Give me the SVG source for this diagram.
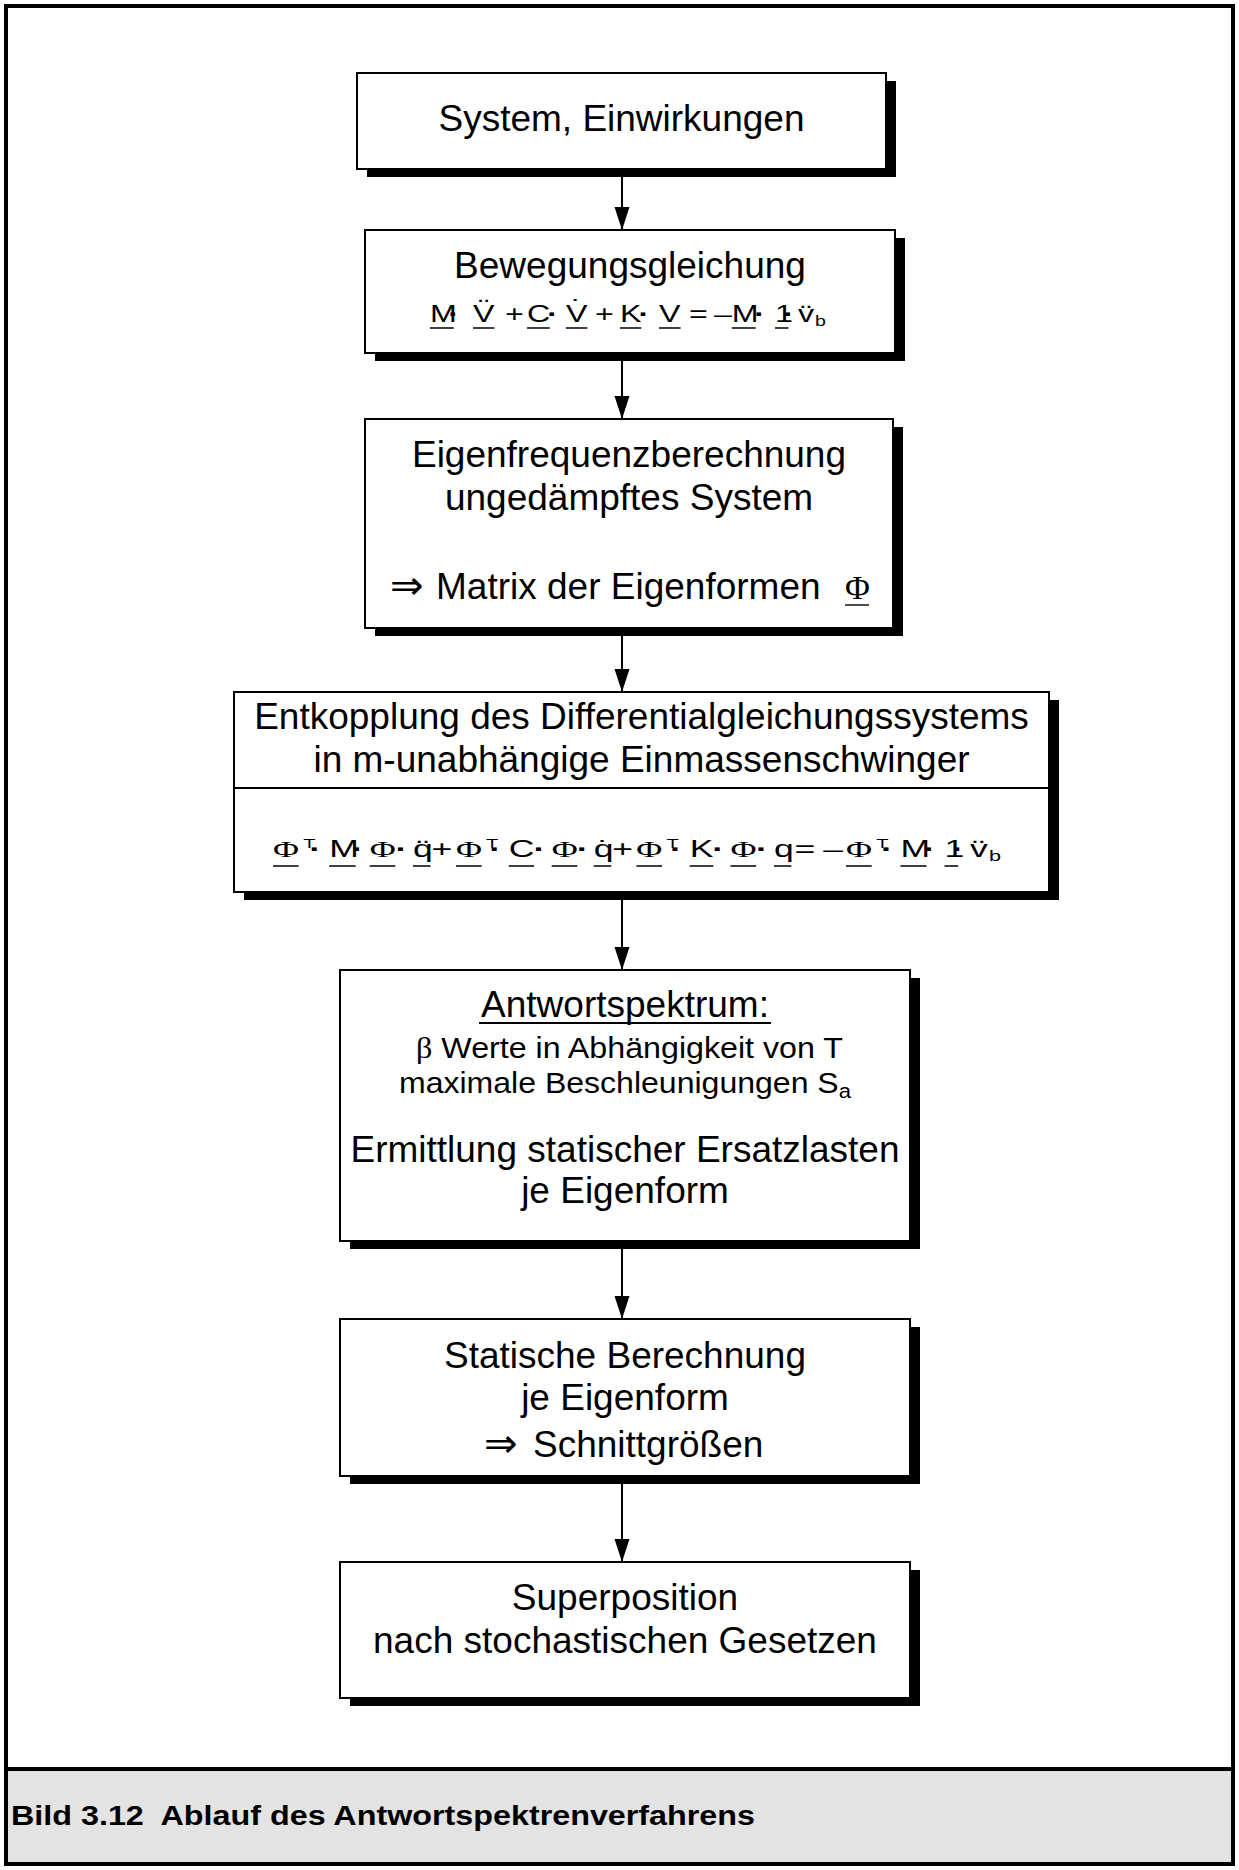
<svg xmlns="http://www.w3.org/2000/svg" width="1239" height="1870" viewBox="0 0 1239 1870">
  <defs>
    <style>
      .shadow { fill: #000; }
      .box { fill: #fff; stroke: #000; stroke-width: 2; }
      .t { font-family: "Liberation Sans", Arial, sans-serif; font-size: 37px; text-anchor: middle; fill: #000; }
      .ts { font-family: "Liberation Sans", Arial, sans-serif; font-size: 37px; text-anchor: start; fill: #000; }
      .small { font-family: "Liberation Sans", Arial, sans-serif; font-size: 29px; text-anchor: start; fill: #000; }
      .eq { font-family: "Liberation Sans", Arial, sans-serif; font-size: 23px; text-anchor: start; fill: #000; }
      .mid { text-anchor: middle; }
      .dot { text-anchor: middle; font-weight: bold; }
      .sym { font-family: "Liberation Serif", "Times New Roman", serif; }
      .arr { font-family: "DejaVu Sans", sans-serif; font-size: 40px; }
      .ul { stroke: #000; stroke-width: 1.4; fill: none; }
      .conn line { stroke: #000; stroke-width: 2; }
      .caption { font-family: "Liberation Sans", Arial, sans-serif; font-size: 28px; font-weight: bold; fill: #000; }
    </style>
    <marker id="arrowhead" markerUnits="userSpaceOnUse" markerWidth="24" markerHeight="16" refX="23" refY="7.5" orient="auto" overflow="visible">
      <path d="M0,0 L23,7.5 L0,15 Z" fill="#000"/>
    </marker>
  </defs>

  <!-- page frame and caption band -->
  <g id="frame">
    <rect x="6" y="6" width="1227" height="1858" fill="#fff" stroke="#000" stroke-width="4"/>
    <rect x="8" y="1771" width="1223" height="91" fill="#e3e3e3"/>
    <line x1="6" y1="1769" x2="1233" y2="1769" stroke="#000" stroke-width="4"/>
    <text class="caption" x="11" y="1825" textLength="744" lengthAdjust="spacingAndGlyphs">Bild 3.12&#160; Ablauf des Antwortspektrenverfahrens</text>
  </g>

  <!-- connectors -->
  <g id="connectors" class="conn">
    <line x1="622" y1="177" x2="622" y2="230" marker-end="url(#arrowhead)"/>
    <line x1="622" y1="361" x2="622" y2="419" marker-end="url(#arrowhead)"/>
    <line x1="622" y1="636" x2="622" y2="692" marker-end="url(#arrowhead)"/>
    <line x1="622" y1="900" x2="622" y2="970" marker-end="url(#arrowhead)"/>
    <line x1="622" y1="1249" x2="622" y2="1319" marker-end="url(#arrowhead)"/>
    <line x1="622" y1="1484" x2="622" y2="1562" marker-end="url(#arrowhead)"/>
  </g>

  <!-- 1: system and actions -->
  <g id="node-system">
    <rect class="shadow" x="367" y="81" width="529" height="96"/>
    <rect class="box" x="357" y="73" width="529" height="96"/>
    <text class="t" x="621.5" y="131">System, Einwirkungen</text>
  </g>

  <!-- 2: equation of motion -->
  <g id="node-motion">
    <rect class="shadow" x="375" y="238" width="530" height="123"/>
    <rect class="box" x="365" y="230" width="530" height="123"/>
    <text class="t" x="630" y="278">Bewegungsgleichung</text>
    <g transform="translate(430,322) scale(1.4,1)">
      <text class="eq">
        <tspan x="0">M</tspan>
        <tspan x="20" class="dot">·</tspan>
        <tspan x="30.7">V</tspan>
        <tspan x="53.6">+</tspan>
        <tspan x="69.3">C</tspan>
        <tspan x="90.7" class="dot">·</tspan>
        <tspan x="97.1">V</tspan>
        <tspan x="117.9">+</tspan>
        <tspan x="135.7">K</tspan>
        <tspan x="156" class="dot">·</tspan>
        <tspan x="163.6">V</tspan>
        <tspan x="185">=</tspan>
        <tspan x="202.8">–M</tspan>
        <tspan x="238.6" class="dot">·</tspan>
        <tspan x="246.4">1</tspan>
        <tspan x="259.3" class="dot">·</tspan>
        <tspan x="262.9">v</tspan>
        <tspan x="275" dy="4" font-size="14">b</tspan>
      </text>
      <text class="eq mid" x="38.4" y="-6">¨</text>
      <text class="eq mid" x="104.8" y="-6">˙</text>
      <text class="eq mid" x="268.6" y="0">¨</text>
      <path class="ul" d="M0,6 H17 M30.7,6 H46 M69.3,6 H85.5 M97.1,6 H112.4 M135.7,6 H151 M163.6,6 H179 M215.6,6 H232.6 M246.4,6 H256"/>
    </g>
  </g>

  <!-- 3: natural frequencies -->
  <g id="node-eigen">
    <rect class="shadow" x="375" y="427" width="528" height="209"/>
    <rect class="box" x="365" y="419" width="528" height="209"/>
    <text class="t" x="629" y="467">Eigenfrequenzberechnung</text>
    <text class="t" x="629" y="510">ungedämpftes System</text>
    <text class="ts" x="390" y="599"><tspan class="arr">⇒</tspan><tspan x="436">Matrix der Eigenformen</tspan><tspan x="845" class="sym" font-size="34">Φ</tspan></text>
    <line class="ul" x1="845" y1="605" x2="869" y2="605" stroke-width="2"/>
  </g>

  <!-- 4: decoupling into single-degree systems -->
  <g id="node-decoupling">
    <rect class="shadow" x="244" y="700" width="815" height="200"/>
    <rect class="box" x="234" y="692" width="815" height="200"/>
    <line x1="234" y1="788" x2="1049" y2="788" stroke="#000" stroke-width="2"/>
    <text class="t" x="641.5" y="729">Entkopplung des Differentialgleichungssystems</text>
    <text class="t" x="641.5" y="772">in m-unabhängige Einmassenschwinger</text>
    <g transform="translate(273,857) scale(1.545,1)">
      <text class="eq">
        <tspan x="0" class="sym">Φ</tspan>
        <tspan x="19.5" dy="-9" font-size="13">T</tspan>
        <tspan x="30.5" dy="9" class="dot">·</tspan>
        <tspan x="36.4">M</tspan>
        <tspan x="57.9" class="dot">·</tspan>
        <tspan x="62.6" class="sym">Φ</tspan>
        <tspan x="86.4" class="dot">·</tspan>
        <tspan x="90.6">q</tspan>
        <tspan x="102.6">+</tspan>
        <tspan x="118.4" class="sym">Φ</tspan>
        <tspan x="137.9" dy="-9" font-size="13">T</tspan>
        <tspan x="147" dy="9" class="dot">·</tspan>
        <tspan x="152.6">C</tspan>
        <tspan x="175.7" class="dot">·</tspan>
        <tspan x="180.4" class="sym">Φ</tspan>
        <tspan x="203.6" class="dot">·</tspan>
        <tspan x="207.6">q</tspan>
        <tspan x="219.6">+</tspan>
        <tspan x="235.2" class="sym">Φ</tspan>
        <tspan x="254.7" dy="-9" font-size="13">T</tspan>
        <tspan x="264" dy="9" class="dot">·</tspan>
        <tspan x="269.7">K</tspan>
        <tspan x="291.4" class="dot">·</tspan>
        <tspan x="296.1" class="sym">Φ</tspan>
        <tspan x="319.6" class="dot">·</tspan>
        <tspan x="324.3">q</tspan>
        <tspan x="337.5">=</tspan>
        <tspan x="356.1">–</tspan>
        <tspan x="370.9" class="sym">Φ</tspan>
        <tspan x="390.4" dy="-9" font-size="13">T</tspan>
        <tspan x="400.5" dy="9" class="dot">·</tspan>
        <tspan x="406.1">M</tspan>
        <tspan x="428" class="dot">·</tspan>
        <tspan x="434.6">1</tspan>
        <tspan x="446.4" class="dot">·</tspan>
        <tspan x="451.1">v</tspan>
        <tspan x="463.5" dy="4" font-size="14">b</tspan>
      </text>
      <text class="eq mid" x="97" y="0">¨</text>
      <text class="eq mid" x="214" y="0">˙</text>
      <text class="eq mid" x="456.8" y="0">¨</text>
      <path class="ul" d="M0,9 H16.6 M36.4,9 H53.5 M62.6,9 H79.2 M90.6,9 H102 M118.4,9 H135 M152.6,9 H169 M180.4,9 H197 M207.6,9 H219 M235.2,9 H251.8 M269.7,9 H285 M296.1,9 H312.7 M324.3,9 H335.5 M370.9,9 H387.5 M406.1,9 H423 M434.6,9 H443.5"/>
    </g>
  </g>

  <!-- 5: response spectrum -->
  <g id="node-spectrum">
    <rect class="shadow" x="350" y="978" width="570" height="271"/>
    <rect class="box" x="340" y="970" width="570" height="271"/>
    <text class="t" x="625" y="1017">Antwortspektrum:</text>
    <line x1="479" y1="1023" x2="771" y2="1023" stroke="#000" stroke-width="2"/>
    <text class="small" x="416" y="1058" textLength="427" lengthAdjust="spacingAndGlyphs"><tspan class="sym">β</tspan> Werte in Abhängigkeit von T</text>
    <text class="small" x="399" y="1093" textLength="452" lengthAdjust="spacingAndGlyphs">maximale Beschleunigungen S<tspan dy="5" font-size="20">a</tspan></text>
    <text class="t" x="625" y="1162">Ermittlung statischer Ersatzlasten</text>
    <text class="t" x="625" y="1203">je Eigenform</text>
  </g>

  <!-- 6: static analysis -->
  <g id="node-static">
    <rect class="shadow" x="350" y="1327" width="570" height="157"/>
    <rect class="box" x="340" y="1319" width="570" height="157"/>
    <text class="t" x="625" y="1368">Statische Berechnung</text>
    <text class="t" x="625" y="1410">je Eigenform</text>
    <text class="ts" x="484" y="1457"><tspan class="arr">⇒</tspan><tspan x="533">Schnittgrößen</tspan></text>
  </g>

  <!-- 7: superposition -->
  <g id="node-superposition">
    <rect class="shadow" x="350" y="1570" width="570" height="136"/>
    <rect class="box" x="340" y="1562" width="570" height="136"/>
    <text class="t" x="625" y="1610">Superposition</text>
    <text class="t" x="625" y="1653">nach stochastischen Gesetzen</text>
  </g>
</svg>
